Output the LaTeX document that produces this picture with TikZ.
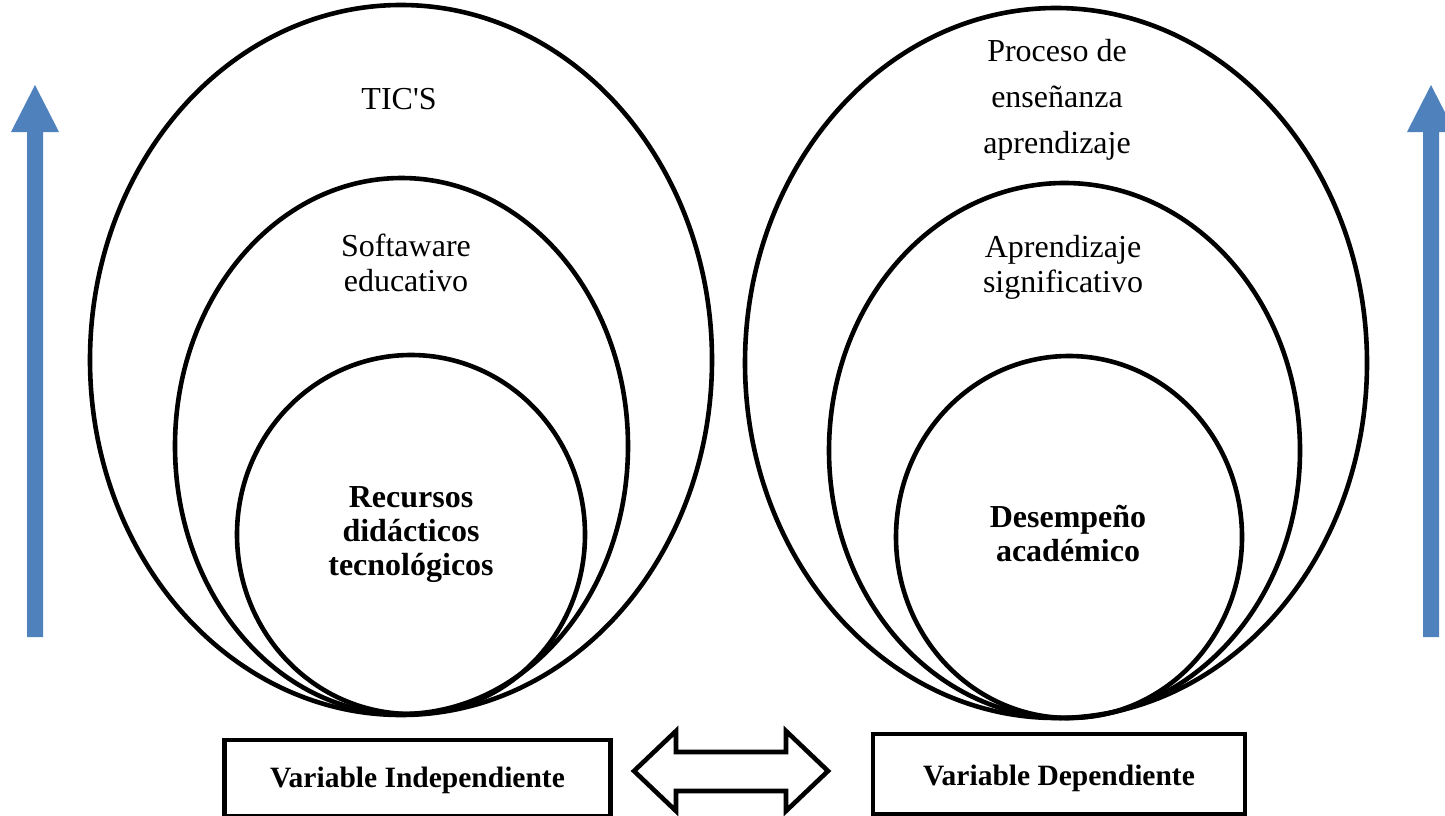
\documentclass[tikz,border=0pt]{standalone}
\usepackage{fontspec}
\setmainfont{Liberation Serif}
\usetikzlibrary{shapes.geometric}
\definecolor{arrowblue}{HTML}{4F81BD}
\tikzset{
  ring/.style={ellipse, draw=black, line width=4.6pt, inner sep=0pt},
  label/.style={align=center, font=\fontsize{32}{35}\selectfont},
  blabel/.style={align=center, font=\fontsize{32}{34}\selectfont\bfseries},
  varbox/.style={draw=black, line width=4.6pt, inner sep=0pt, font=\fontsize{29.5}{32}\selectfont\bfseries},
  uparrow/.style={fill=arrowblue, draw=none},
}
\begin{document}
\begin{tikzpicture}[x=1pt,y=-1pt]
\useasboundingbox (0,0) rectangle (1445,816);
% left ellipses
\node[ring, minimum width=622pt, minimum height=710pt] (louter) at (401,360) {};
\node[ring, minimum width=453pt, minimum height=536pt] (lmid) at (401.5,446) {};
\node[ring, minimum width=348pt, minimum height=359pt] (linner) at (411,534.5) {};
% right ellipses
\node[ring, minimum width=622pt, minimum height=710pt] (router) at (1056,363) {};
\node[ring, minimum width=471pt, minimum height=535pt] (rmid) at (1064.5,450.5) {};
\node[ring, minimum width=346pt, minimum height=362pt] (rinner) at (1069,537) {};
% texts
\node[label] (tics) at (399,99) {TIC\textquotesingle S};
\node[label] (soft) at (406,263) {Softaware\\educativo};
\node[blabel] (recursos) at (411,535) {Recursos\\didácticos\\tecnológicos};
\node[label, font=\fontsize{32}{46}\selectfont] (proceso) at (1057,100) {Proceso de\\enseñanza\\aprendizaje};
\node[label] (aprend) at (1063,267) {Aprendizaje\\significativo};
\node[blabel] (desemp) at (1068,534) {Desempeño\\académico};
% boxes
\node[varbox, minimum width=386pt, minimum height=76pt] (vind) at (417.5,778) {};
\node[font=\fontsize{29.5}{32}\selectfont\bfseries] (vindt) at (417.5,780) {Variable Independiente};
\node[varbox, minimum width=372pt, minimum height=80pt] (vdep) at (1059,774) {};
\node[font=\fontsize{29.5}{32}\selectfont\bfseries] (vdept) at (1059,778) {Variable Dependiente};
% double arrow
\coordinate (dA) at (634,771);
\coordinate (dB) at (828,771);
\draw[line width=4.6pt, line join=miter, fill=white] (dA) -- (676,731) -- (676,752) -- (786,752) -- (786,731) -- (dB) -- (786,811) -- (786,791) -- (676,791) -- (676,811) -- cycle;
% blue arrows
\coordinate (ltip) at (35,85);
\coordinate (rtip) at (1431,85);
\fill[uparrow] (ltip) -- (59,132) -- (43,132) -- (43,637) -- (27,637) -- (27,132) -- (11,132) -- cycle;
\fill[uparrow] (rtip) -- (1455,132) -- (1439,132) -- (1439,637) -- (1423,637) -- (1423,132) -- (1407,132) -- cycle;
\end{tikzpicture}
\end{document}
